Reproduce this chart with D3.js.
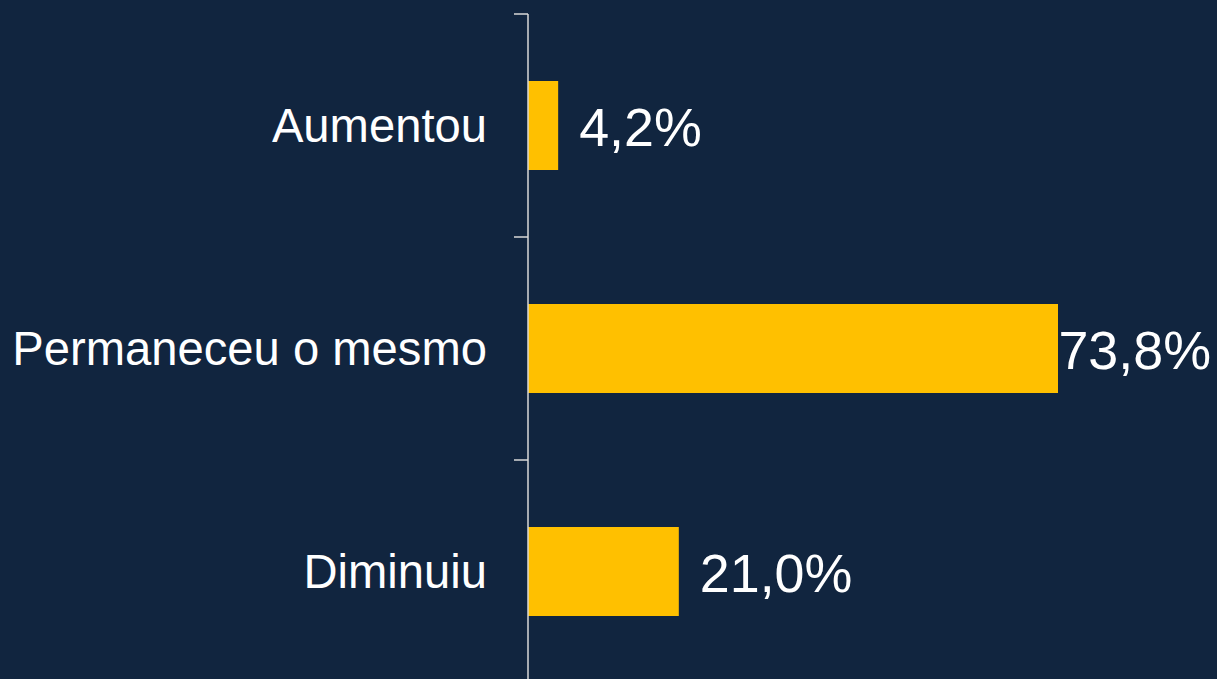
<!DOCTYPE html>
<html>
<head>
<meta charset="utf-8">
<script src="https://cdn.jsdelivr.net/npm/d3@7"></script>
<style>
  html, body { margin: 0; padding: 0; background: #11253f; }
  svg { display: block; }
  text { font-family: "Liberation Sans", Arial, sans-serif; fill: #ffffff; }
</style>
</head>
<body>
<svg width="1217" height="679"></svg>
<script>
const categories = ["Aumentou", "Permaneceu o mesmo", "Diminuiu"];
const values = [4.2, 73.8, 21.0];
const valueLabels = ["4,2%", "73,8%", "21,0%"];

const W = 1217, H = 679;
const svg = d3.select("svg");

const x = d3.scaleLinear().domain([0, 73.8]).range([528, 1058]);
const y = d3.scaleBand().domain(categories).range([14, 683]).paddingInner(0).paddingOuter(0);
const barH = 89;

// bars
svg.append("g").selectAll("rect")
  .data(categories)
  .enter().append("rect")
    .attr("x", x(0))
    .attr("y", d => y(d) + (y.bandwidth() - barH) / 2)
    .attr("width", (d, i) => x(values[i]) - x(0))
    .attr("height", barH)
    .attr("fill", "#ffc000");

// axis line + ticks at band boundaries
const axis = svg.append("g").attr("class", "axis");
axis.append("line")
  .attr("x1", x(0)).attr("x2", x(0))
  .attr("y1", 14).attr("y2", H)
  .attr("stroke", "#d9d9d9").attr("stroke-width", 1.5);
axis.selectAll("line.tick")
  .data(categories)
  .enter().append("line")
    .attr("class", "tick")
    .attr("x1", x(0) - 14).attr("x2", x(0))
    .attr("y1", d => y(d)).attr("y2", d => y(d))
    .attr("stroke", "#d9d9d9").attr("stroke-width", 1.5);

// category labels
axis.selectAll("text")
  .data(categories)
  .enter().append("text")
    .attr("x", 487)
    .attr("y", d => y(d) + y.bandwidth() / 2)
    .attr("dy", "0.35em")
    .attr("text-anchor", "end")
    .attr("font-size", 47.2)
    .text(d => d);

// value labels
svg.append("g").selectAll("text")
  .data(categories)
  .enter().append("text")
    .attr("y", d => y(d) + y.bandwidth() / 2 + 2)
    .attr("dy", "0.35em")
    .attr("font-size", 53.8)
    .text((d, i) => valueLabels[i])
    .attr("x", function(d, i) {
      const w = this.getComputedTextLength();
      return Math.min(x(values[i]) + 21, W - 6 - w);
    });
</script>
</body>
</html>
